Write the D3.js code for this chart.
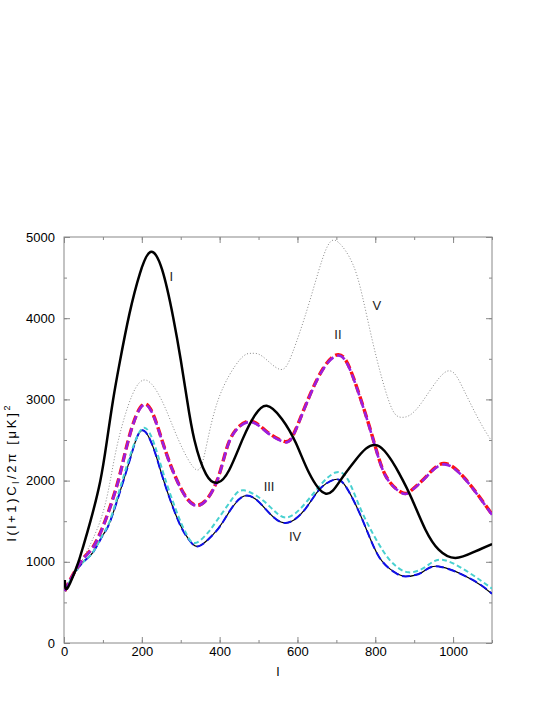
<!DOCTYPE html>
<html>
<head>
<meta charset="utf-8">
<script src="https://cdn.jsdelivr.net/npm/d3@7"></script>
<style>
  body { margin: 0; background: #fff; }
  text { font-family: "Liberation Sans", Arial, Helvetica, sans-serif; }
</style>
</head>
<body>
<svg width="545" height="705"></svg>
<script>
// model I (black solid)
var lI = [2, 8, 28, 38, 50, 68, 93, 110, 126, 143, 168, 195, 222, 252, 281, 300, 316, 335, 365, 395, 425, 460, 490, 521, 560, 596, 630, 673, 710, 750, 805, 861, 895, 929, 963, 1006, 1057, 1100];
var cI = [776, 670, 880, 1010, 1200, 1500, 1990, 2480, 2990, 3450, 4050, 4550, 4815, 4600, 4000, 3489, 3005, 2504, 2080, 1975, 2134, 2520, 2800, 2922, 2760, 2463, 2093, 1839, 2000, 2257, 2434, 2093, 1765, 1395, 1149, 1047, 1128, 1219];

// model II (red dashed + purple dashed)
var lII = [2, 20, 50, 75, 106, 140, 166, 208, 251, 290, 341, 394, 427, 476, 520, 566, 596, 651, 705, 745, 792, 827, 867, 891, 930, 976, 1032, 1100];
var cIIred = [640, 815, 1045, 1185, 1508, 2010, 2512, 2945, 2510, 2008, 1695, 2008, 2510, 2732, 2608, 2482, 2635, 3252, 3552, 3252, 2552, 2058, 1856, 1873, 2046, 2210, 2018, 1585];
var cIIpur = [640, 812, 1040, 1180, 1502, 2003, 2504, 2935, 2504, 2003, 1690, 2003, 2504, 2722, 2600, 2475, 2627, 3243, 3540, 3243, 2545, 2052, 1850, 1867, 2040, 2200, 2011, 1580];

// model III (cyan short dashes)
var lIII = [2, 15, 30, 50, 75, 100, 119, 150, 175, 204, 232, 258, 294, 315, 337, 370, 392, 430, 463, 520, 570, 620, 660, 698, 730, 767, 818, 850, 886, 930, 972, 1040, 1100];
var cIII = [640, 760, 880, 1000, 1120, 1340, 1520, 2003, 2380, 2650, 2450, 2050, 1560, 1340, 1231, 1360, 1502, 1760, 1880, 1720, 1545, 1720, 1950, 2100, 2010, 1601, 1149, 960, 870, 940, 1026, 870, 670];

// model IV (blue long dashes over black)
var lIV = [2, 15, 30, 50, 75, 100, 119, 153, 175, 200, 230, 256, 294, 320, 345, 380, 410, 463, 520, 570, 620, 656, 694, 724, 767, 809, 850, 878, 920, 963, 1049, 1100];
var cIV = [640, 760, 880, 1000, 1120, 1330, 1502, 2003, 2350, 2618, 2400, 2003, 1502, 1280, 1190, 1320, 1502, 1810, 1640, 1478, 1650, 1888, 2011, 1929, 1518, 1066, 870, 820, 870, 943, 780, 607];

// model V (grey dotted)
var lV = [2, 20, 50, 93, 119, 140, 175, 213, 255, 294, 337, 362, 397, 452, 482, 510, 555, 587, 630, 673, 705, 741, 767, 792, 818, 844, 869, 912, 979, 1023, 1066, 1100];
var cV = [640, 800, 1050, 1502, 2003, 2504, 3050, 3234, 2950, 2504, 2143, 2340, 3005, 3489, 3567, 3530, 3370, 3571, 4187, 4843, 4935, 4680, 4268, 3735, 3243, 2873, 2779, 2914, 3333, 3160, 2750, 2480];

// curve labels
var labelText = ["I", "II", "III", "IV", "V"];
var labelL = [276, 704, 527, 594, 804];
var labelC = [4511, 3797, 1925, 1310, 4155];

var xTicks = [0, 200, 400, 600, 800, 1000];
var yTicks = [0, 1000, 2000, 3000, 4000, 5000];

var svg = d3.select("svg"),
  margin = {top: 237, right: 53, bottom: 62, left: 64},
  width = +svg.attr("width") - margin.left - margin.right,
  height = +svg.attr("height") - margin.top - margin.bottom;

var x = d3.scaleLinear().domain([0, 1100]).range([0, width]),
  y = d3.scaleLinear().domain([0, 5000]).range([height, 0]);

var g = svg.append("g")
  .attr("transform", "translate(" + margin.left + "," + margin.top + ")");

g.append("clipPath").attr("id", "clip")
  .append("rect").attr("width", width).attr("height", height);

// ticks, pointing inwards on all four sides
function styleAxis(sel) {
  sel.select(".domain").remove();
  sel.selectAll(".tick line").attr("stroke", "#888");
  sel.selectAll("text").attr("fill", "#000").style("font-size", "13px")
    .style("font-family", "'Liberation Sans', Arial, sans-serif");
}
var minorX = d3.range(0, 1101, 100), minorY = d3.range(0, 5001, 500);

g.append("g").attr("transform", "translate(0," + height + ")")
  .call(d3.axisBottom(x).tickValues(minorX).tickSize(-3).tickFormat("")).call(styleAxis);
g.append("g").attr("transform", "translate(0," + height + ")")
  .call(d3.axisBottom(x).tickValues(xTicks).tickSize(-6).tickPadding(4).tickFormat(d3.format("d"))).call(styleAxis);
g.append("g")
  .call(d3.axisTop(x).tickValues(minorX).tickSize(-3).tickFormat("")).call(styleAxis);
g.append("g")
  .call(d3.axisTop(x).tickValues(xTicks).tickSize(-6).tickFormat("")).call(styleAxis);

g.append("g")
  .call(d3.axisLeft(y).tickValues(minorY).tickSize(-3).tickFormat("")).call(styleAxis);
g.append("g")
  .call(d3.axisLeft(y).tickValues(yTicks).tickSize(-6).tickPadding(9).tickFormat(d3.format("d"))).call(styleAxis);
g.append("g").attr("transform", "translate(" + width + ",0)")
  .call(d3.axisRight(y).tickValues(minorY).tickSize(-3).tickFormat("")).call(styleAxis);
g.append("g").attr("transform", "translate(" + width + ",0)")
  .call(d3.axisRight(y).tickValues(yTicks).tickSize(-6).tickFormat("")).call(styleAxis);

g.append("rect")
  .attr("width", width).attr("height", height)
  .attr("fill", "none").attr("stroke", "#888").attr("stroke-width", 1);

// curves
var line = d3.line()
  .x(function(d) { return x(d[0]); })
  .y(function(d) { return y(d[1]); })
  .curve(d3.curveNatural);

function pairs(ls, cs) { return ls.map(function(l, i) { return [l, cs[i]]; }); }

var curves = g.append("g").attr("clip-path", "url(#clip)");

function draw(ls, cs, color, w, dash) {
  curves.append("path")
    .datum(pairs(ls, cs))
    .attr("d", line)
    .attr("fill", "none")
    .attr("stroke", color)
    .attr("stroke-width", w)
    .attr("stroke-dasharray", dash);
}

draw(lV, cV, "#8a8a8a", 1, "1,2");
draw(lIV, cIV, "#000", 1.2, null);
draw(lIV, cIV, "#1010e8", 2, "8,4");
draw(lIII, cIII, "#48d1d0", 2, "5,3");
draw(lII, cIIred, "#ff1010", 3.4, "9,4");
draw(lII, cIIpur, "#9a1fe0", 2.6, "9,4");
draw(lI, cI, "#000", 2.5, null);

// curve labels
g.selectAll(null)
  .data(labelText)
  .enter()
  .append("text")
  .attr("x", function(d, i) { return x(labelL[i]); })
  .attr("y", function(d, i) { return y(labelC[i]); })
  .attr("dy", "0.35em")
  .attr("text-anchor", "middle")
  .style("font-size", "13px")
  .attr("fill", "#222")
  .text(function(d) { return d; });

// axis titles
svg.append("text")
  .attr("x", margin.left + x(550))
  .attr("y", 676)
  .attr("text-anchor", "middle")
  .style("font-size", "13px")
  .text("l");

var yl = svg.append("text")
  .attr("transform", "translate(16,472) rotate(-90)")
  .attr("text-anchor", "middle")
  .style("font-size", "13px")
  .style("letter-spacing", "2.7px");
yl.append("tspan").text("l(l+1)C");
yl.append("tspan").attr("dy", "3").style("font-size", "9px").text("l");
yl.append("tspan").attr("dy", "-3").text("/2\u03c0 [\u03bcK]");
yl.append("tspan").attr("dy", "-6").style("font-size", "9px").text("2");
</script>
</body>
</html>
